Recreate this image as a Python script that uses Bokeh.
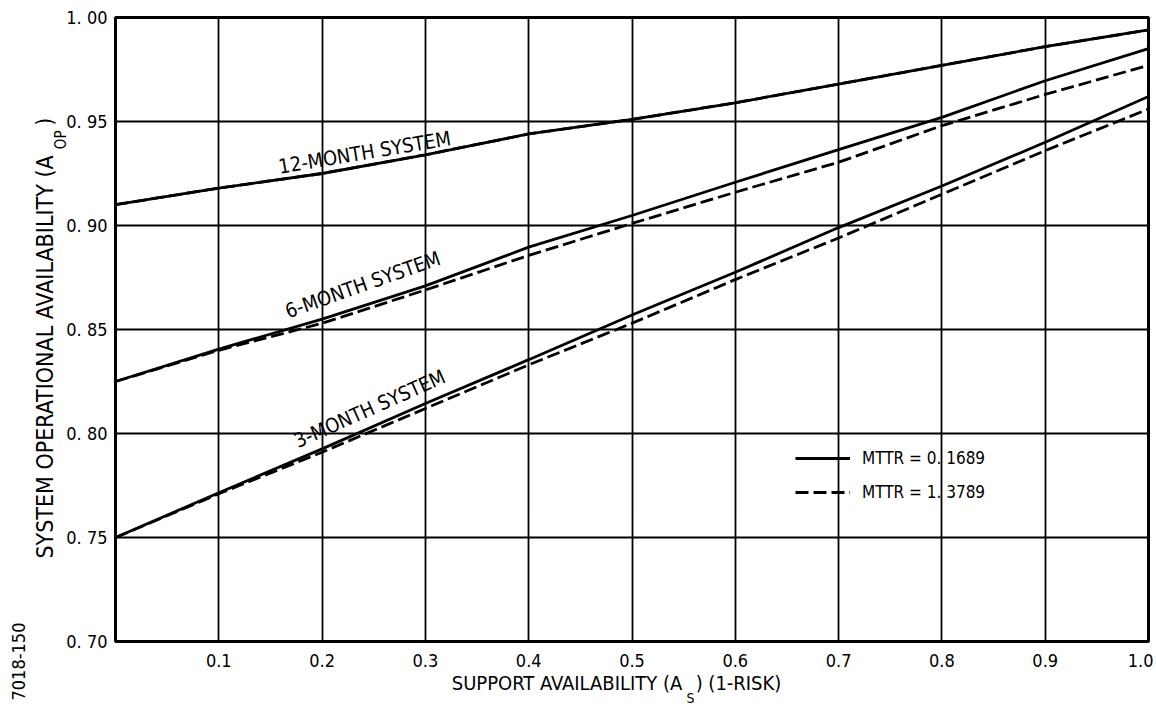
from math import pi
from bokeh.plotting import figure
from bokeh.models import (Range1d, FixedTicker, Label, Legend, LegendItem, LinearAxis,
                          AllLabels, Title)
from bokeh.embed import file_html
from bokeh.resources import INLINE

# ---- data ----
support = [0.0, 0.1, 0.2, 0.3, 0.4, 0.5, 0.6, 0.7, 0.8, 0.9, 1.0]
m12_solid = [0.910, 0.918, 0.925, 0.934, 0.944, 0.951, 0.959, 0.968, 0.977, 0.986, 0.994]
m12_dashed = [0.910, 0.918, 0.925, 0.934, 0.944, 0.951, 0.959, 0.968, 0.977, 0.986, 0.994]
m6_solid = [0.825, 0.8406, 0.855, 0.871, 0.8896, 0.9048, 0.9208, 0.9365, 0.952, 0.9696, 0.985]
m6_dashed = [0.825, 0.840, 0.853, 0.869, 0.8856, 0.901, 0.916, 0.9304, 0.948, 0.963, 0.977]
m3_solid = [0.750, 0.7715, 0.7926, 0.8144, 0.8355, 0.857, 0.8775, 0.899, 0.919, 0.940, 0.962]
m3_dashed = [0.750, 0.771, 0.791, 0.812, 0.833, 0.853, 0.874, 0.894, 0.915, 0.936, 0.956]

x_ticks = [0.1, 0.2, 0.3, 0.4, 0.5, 0.6, 0.7, 0.8, 0.9, 1.0]
x_tick_labels = ["0.1", "0.2", "0.3", "0.4", "0.5", "0.6", "0.7", "0.8", "0.9", "1.0"]
y_ticks = [0.70, 0.75, 0.80, 0.85, 0.90, 0.95, 1.00]
y_tick_labels = ["0. 70", "0. 75", "0. 80", "0. 85", "0. 90", "0. 95", "1. 00"]
curve_names = ["12-MONTH SYSTEM", "6-MONTH SYSTEM", "3-MONTH SYSTEM"]
legend_labels = ["MTTR = 0. 1689", "MTTR = 1. 3789"]
y_title_parts = ["SYSTEM OPERATIONAL AVAILABILITY (A", "OP", ")"]
x_title_parts = ["SUPPORT AVAILABILITY (A", "S", ") (1-RISK)"]
fig_number = "7018-150"

FONT = "DejaVu Sans Condensed"
DASH = "13 5"
LW = 2.8

p = figure(width=1153, height=708, output_backend="svg", toolbar_location=None,
           x_range=Range1d(0, 1.0), y_range=Range1d(0.70, 1.00),
           min_border_left=115, min_border_top=17, min_border_right=5, min_border_bottom=67)
p.background_fill_color = "white"
p.border_fill_color = "white"
p.outline_line_color = "black"
p.outline_line_width = 3

p.xaxis.ticker = FixedTicker(ticks=x_ticks)
p.yaxis.ticker = FixedTicker(ticks=y_ticks)
p.xaxis.major_label_overrides = {t: l for t, l in zip(x_ticks, x_tick_labels)}
p.yaxis.major_label_overrides = {t: l for t, l in zip(y_ticks, y_tick_labels)}
for ax in (p.xaxis, p.yaxis):
    ax.axis_line_color = None
    ax.major_tick_line_color = None
    ax.minor_tick_line_color = None
    ax.major_tick_out = 0
    ax.major_tick_in = 0
    ax.minor_tick_out = 0
    ax.minor_tick_in = 0
    ax.major_label_text_font = FONT
    ax.major_label_text_font_size = "18px"
    ax.major_label_text_color = "black"
    ax.major_label_policy = AllLabels()
p.yaxis.major_label_standoff = 8
p.xaxis.major_label_standoff = 12


def text_axis(side, ticks, labels, size, standoff, orient=None):
    ax = LinearAxis(ticker=FixedTicker(ticks=ticks),
                    major_label_overrides=dict(zip(ticks, labels)),
                    axis_line_color=None, major_tick_line_color=None,
                    minor_tick_line_color=None, major_tick_in=0, major_tick_out=0,
                    minor_tick_in=0, minor_tick_out=0,
                    major_label_standoff=standoff, major_label_text_font=FONT,
                    major_label_text_font_size=size, major_label_text_color="black",
                    major_label_policy=AllLabels())
    if orient is not None:
        ax.major_label_orientation = orient
    p.add_layout(ax, side)
    return ax


# y-axis title: subscript axis next to the tick labels, then the main text
# (rotated labels end at their tick position)
text_axis("left", [0.9457], [y_title_parts[1]], "15px", 2, pi / 2)
text_axis("left", [0.9337, 0.9519], [y_title_parts[0], y_title_parts[2]], "23px", -5, pi / 2)
# x-axis title (labels centred on their tick position)
text_axis("below", [0.4371, 0.6031], [x_title_parts[0], x_title_parts[2]], "20px", 1)
text_axis("below", [0.5566], [x_title_parts[1]], "14px", -8)

p.add_layout(Title(text=fig_number, align="left", offset=-59, standoff=-16,
                   text_font=FONT, text_font_size="18px", text_font_style="normal",
                   text_color="black"), "left")

p.xgrid.ticker = FixedTicker(ticks=x_ticks[:-1])
p.ygrid.ticker = FixedTicker(ticks=y_ticks[1:-1])
for g in (p.xgrid, p.ygrid):
    g.grid_line_color = "black"
    g.grid_line_width = 1.8

r12s = p.line(support, m12_solid, line_color="black", line_width=LW)
r12d = p.line(support, m12_dashed, line_color="black", line_width=LW, line_dash=DASH)
r6s = p.line(support, m6_solid, line_color="black", line_width=LW)
r6d = p.line(support, m6_dashed, line_color="black", line_width=LW, line_dash=DASH)
r3s = p.line(support, m3_solid, line_color="black", line_width=LW)
r3d = p.line(support, m3_dashed, line_color="black", line_width=LW, line_dash=DASH)

# curve labels
label_specs = [(0.158, 0.9282, 9.5), (0.165, 0.8585, 19.5), (0.174, 0.7960, 24.0)]
for name, (lx, ly, ang) in zip(curve_names, label_specs):
    p.add_layout(Label(x=lx, y=ly, text=name, angle=ang * pi / 180,
                       text_align="left", text_baseline="alphabetic",
                       text_font=FONT, text_font_size="20px", text_color="black"))

legend = Legend(items=[LegendItem(label=legend_labels[0], renderers=[r3s]),
                       LegendItem(label=legend_labels[1], renderers=[r3d])],
                location=(680, 137), padding=0, margin=0, spacing=10,
                glyph_width=55, glyph_height=24, label_height=24, label_standoff=12,
                label_text_font=FONT, label_text_font_size="17px",
                label_text_color="black",
                background_fill_alpha=0, border_line_alpha=0)
p.add_layout(legend)

open("out.html", "w").write(file_html(p, INLINE))
